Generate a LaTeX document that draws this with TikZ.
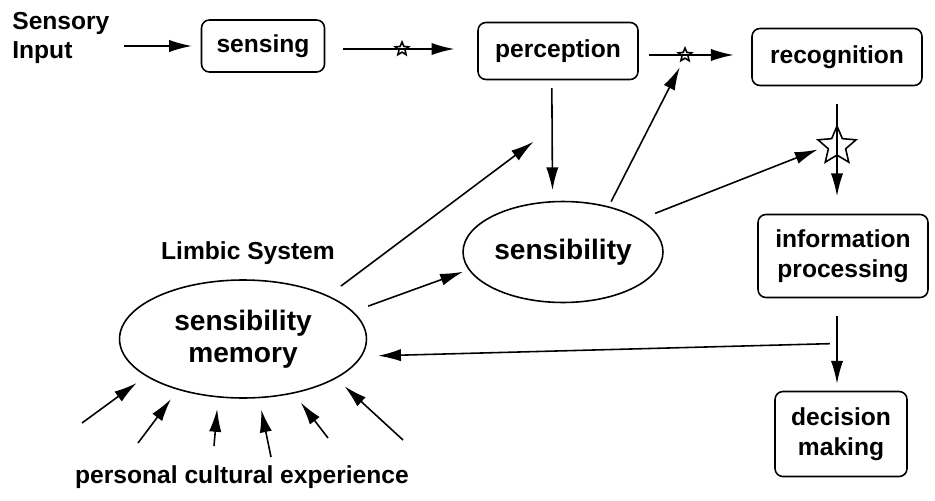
\documentclass[tikz,border=0pt]{standalone}
\usepackage{fontspec}
\setmainfont{Liberation Sans}
\usetikzlibrary{shapes.geometric,arrows.meta}

\begin{document}
\begin{tikzpicture}[x=0.02cm,y=-0.02cm,
    every node/.style={font=\fontsize{14}{17}\selectfont\bfseries},
    box/.style={draw,rounded corners=4.5pt,line width=0.9pt,align=center,inner sep=0pt},
    oval/.style={draw,ellipse,line width=0.9pt,align=center,inner sep=0pt,
      font=\fontsize{16}{18}\selectfont\bfseries},
    smallstar/.style={draw,star,star points=5,star point ratio=2.2,
      minimum size=0.28cm,inner sep=0pt,line width=0.9pt},
    bigstar/.style={smallstar,minimum size=0.8cm},
    ln/.style={line width=0.9pt},
    arr/.style={ln,-{Latex[length=13pt,width=7pt]}}]
      \useasboundingbox (0,0) rectangle (935,500);

      % Top row
      \node[align=left,inner sep=0pt,anchor=west] (input) at (12,38) {Sensory\\Input};
      \node[box,minimum width=2.46cm,minimum height=1.04cm] (sensing) at (263,46) {sensing};
      \node[box,minimum width=3.2cm,minimum height=1.14cm] (perception) at (558,51) {perception};
      \node[box,minimum width=3.4cm,minimum height=1.14cm] (recognition) at (837,57) {recognition};

      % Right column
      \node[box,minimum width=3.4cm,minimum height=1.66cm] (info) at (843,256) {information\\processing};
      \node[box,minimum width=2.64cm,minimum height=1.7cm] (decision) at (841,434) {decision\\making};

      % Ellipses
      \node[oval,minimum width=4cm,minimum height=2.02cm] (sensibility) at (563,252) {sensibility};
      \node[oval,minimum width=4.94cm,minimum height=2.36cm] (memory) at (243,339) {sensibility\\memory};
      \node (limbic) at (248,253) {Limbic System};
      \node (culture) at (242,477) {personal cultural experience};

      % Stars
      \node[smallstar] (s1) at (402,49) {};
      \node[smallstar] (s2) at (685,55) {};
      \node[bigstar] (s3) at (837,146) {};

      % Main flow
      \draw[arr] ([xshift=8pt]input.east |- sensing.west) -- ([xshift=-5pt]sensing.west);
      \draw[ln] ([xshift=10pt]sensing.east |- s1) -- (s1.center);
      \draw[arr] (s1.center) -- ([xshift=-13pt]perception.west |- s1);
      \draw[ln] ([xshift=6pt]perception.east |- s2) -- (s2.center);
      \draw[arr] (s2.center) -- ([xshift=-10pt]recognition.west |- s2);
      \draw[ln] ([yshift=-10pt]recognition.south) -- (s3.center);
      \draw[arr] (s3.center) -- ([yshift=10pt]info.north -| s3);
      \draw[arr] ([yshift=-10pt]info.south -| s3) -- ([yshift=4pt]decision.north -| s3)
        coordinate[pos=0.41] (branch);
      \draw[arr] ([xshift=-4pt]branch) -- ([xshift=9pt]memory.-8);

      % Sensibility links
      \draw[arr] ([xshift=-3.5pt,yshift=-4.5pt]perception.south) -- ([xshift=-6pt,yshift=6pt]sensibility.north);
      \draw[arr,shorten <=9pt] (memory.27) -- ([xshift=-14pt,yshift=-35pt]perception.south);
      \draw[arr,shorten <=9pt] (memory.14) -- ([xshift=-4pt]sensibility.192);
      \draw[arr,shorten <=3pt] (sensibility.45) -- ([xshift=-3pt,yshift=-7pt]s2.center);
      \draw[arr,shorten <=9pt] (sensibility.23) -- ([xshift=-11pt,yshift=-2pt]s3.center);

      % Personal cultural experience
      \foreach \sx/\sy/\ang [count=\i] in {82/423/201, 138/443/218, 214/446/247,
          271/457/285, 328/438/313, 403/440/337} {
        \coordinate (pce\i) at (\sx,\sy);
        \draw[arr,shorten >=6.5pt] (pce\i) -- (memory.\ang);
      }
\end{tikzpicture}
\end{document}
